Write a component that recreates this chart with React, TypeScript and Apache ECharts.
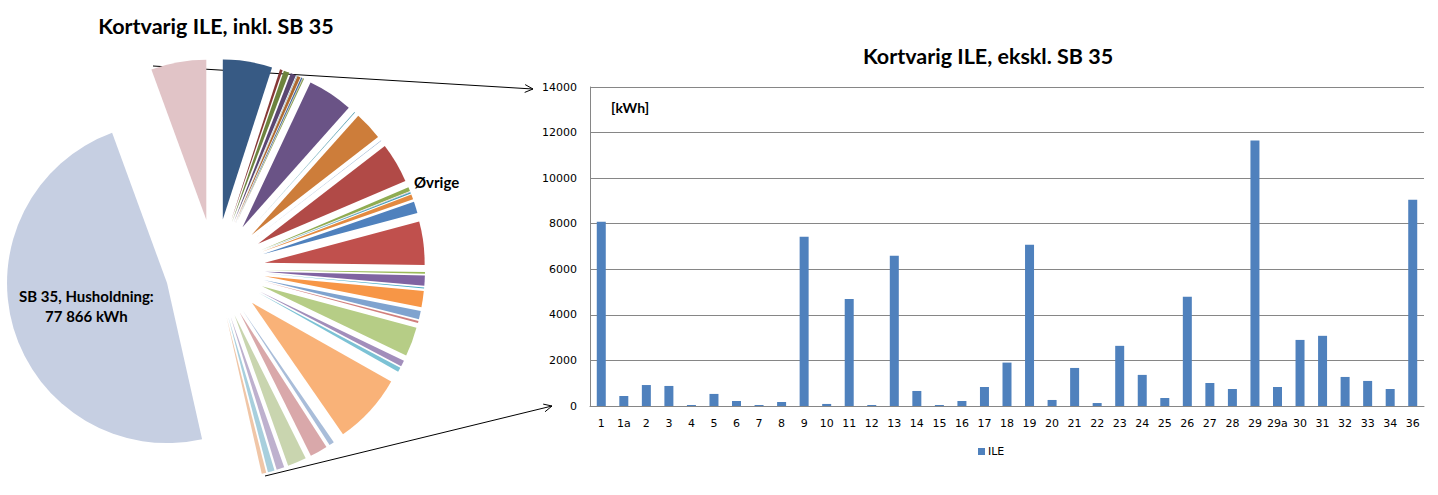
import React, { useEffect, useRef } from "react";
import * as echarts from "echarts";

// ---------- data ----------
const categories = [
  "1", "1a", "2", "3", "4", "5", "6", "7", "8", "9", "10", "11", "12", "13", "14", "15", "16", "17", "18", "19",
  "20", "21", "22", "23", "24", "25", "26", "27", "28", "29", "29a", "30", "31", "32", "33", "34", "36",
];
const ileValues = [
  8090, 440, 920, 880, 45, 530, 220, 45, 175, 7430, 90, 4700, 45, 6590, 660, 45, 220, 835, 1905, 7080,
  265, 1670, 130, 2640, 1365, 350, 4790, 1010, 745, 11650, 835, 2900, 3080, 1275, 1100, 745, 9055,
];
const sb35Name = "SB 35, Husholdning";
const sb35Value = 77866;
const sb35InsertBefore = "36";
const yTicks = [0, 2000, 4000, 6000, 8000, 10000, 12000, 14000];
const seriesName = "ILE";
const pieTitle = "Kortvarig ILE, inkl. SB 35";
const barTitle = "Kortvarig ILE, ekskl. SB 35";
const unitLabel = "[kWh]";
const otherLabel = "Øvrige";

// ---------- styling ----------
const accents = ["#4F81BD", "#C0504D", "#9BBB59", "#8064A2", "#4BACC6", "#F79646"];
const paleGray = [235, 232, 238];
const cycleMods: { shade?: number; tint?: number; gray?: number }[] = [
  { shade: 0.7 }, { shade: 0.83 }, { shade: 0.92 }, { shade: 1 }, { tint: 0.27 }, { gray: 0.58 }, { gray: 0.76 },
];
function variant(hex: string, mod: { shade?: number; tint?: number; gray?: number }) {
  const n = parseInt(hex.slice(1), 16);
  let rgb = [(n >> 16) & 255, (n >> 8) & 255, n & 255];
  if (mod.shade !== undefined) rgb = rgb.map((c) => Math.round(c * mod.shade!));
  if (mod.tint !== undefined) rgb = rgb.map((c) => Math.round(c + (255 - c) * mod.tint!));
  if (mod.gray !== undefined) rgb = rgb.map((c, k) => Math.round(c + (paleGray[k] - c) * mod.gray!));
  return "#" + rgb.map((c) => c.toString(16).padStart(2, "0")).join("");
}
function pieColor(i: number) {
  return variant(accents[i % 6], cycleMods[Math.min(Math.floor(i / 6), cycleMods.length - 1)]);
}
function fmtSpace(v: number) {
  return String(v).replace(/\B(?=(\d{3})+(?!\d))/g, " ");
}
function arrowHead(x1: number, y1: number, x2: number, y2: number, len: number) {
  const a = Math.atan2(y2 - y1, x2 - x1);
  const s = 0.45;
  return [
    [x2 - len * Math.cos(a - s), y2 - len * Math.sin(a - s)],
    [x2, y2],
    [x2 - len * Math.cos(a + s), y2 - len * Math.sin(a + s)],
  ];
}

const titleFont = "Lato, 'Open Sans', sans-serif";
const tickFont = "'DejaVu Sans', Verdana, sans-serif";

export default function App() {
  const ref = useRef<HTMLDivElement>(null);
  useEffect(() => {
    if (!ref.current) return;
    const chart = echarts.init(ref.current, undefined, { renderer: "svg" });

    const insertAt = categories.indexOf(sb35InsertBefore);
    const pieNames = [...categories.slice(0, insertAt), sb35Name, ...categories.slice(insertAt)];
    const pieVals = [...ileValues.slice(0, insertAt), sb35Value, ...ileValues.slice(insertAt)];
    const pieData = pieNames.map((name, i) => {
      const isSb = name === sb35Name;
      return {
        name,
        value: pieVals[i],
        selected: true,
        itemStyle: { color: pieColor(i) },
        label: isSb
          ? {
              show: true,
              position: "inside",
              formatter: () => `${sb35Name}:\n${fmtSpace(sb35Value)} kWh`,
              fontFamily: titleFont,
              fontWeight: "bold",
              fontSize: 15,
              lineHeight: 20,
              padding: [0, 2, 12, 0],
              color: "#000",
            }
          : { show: false },
      };
    });

    const l1 = [153, 66, 533, 89];
    const l2 = [265, 476, 552, 406];

    chart.setOption({
      animation: false,
      title: [
        {
          text: pieTitle,
          left: 211,
          top: 10,
          textAlign: "center",
          textStyle: { fontFamily: titleFont, fontWeight: "bold", fontSize: 21.5, color: "#000" },
        },
        {
          text: barTitle,
          left: 983,
          top: 40,
          textAlign: "center",
          textStyle: { fontFamily: titleFont, fontWeight: "bold", fontSize: 21.5, color: "#000" },
        },
      ],
      legend: {
        data: [seriesName],
        left: 973,
        top: 441,
        icon: "rect",
        itemWidth: 7,
        itemHeight: 7,
        itemGap: 4,
        textStyle: { fontFamily: tickFont, fontSize: 11, color: "#000", padding: [0, 0, 0, -2] },
      },
      grid: { left: 590, right: 14, top: 87, bottom: 89, containLabel: false },
      xAxis: {
        type: "category",
        data: categories,
        axisLine: { lineStyle: { color: "#868686" } },
        axisTick: { show: false },
        axisLabel: { interval: 0, color: "#000", fontFamily: tickFont, fontSize: 11, margin: 12 },
      },
      yAxis: {
        type: "value",
        min: yTicks[0],
        max: yTicks[yTicks.length - 1],
        interval: yTicks[1] - yTicks[0],
        axisLine: { show: true, lineStyle: { color: "#868686" } },
        axisTick: { show: false },
        splitLine: { lineStyle: { color: "#868686" } },
        axisLabel: {
          color: "#000",
          fontFamily: tickFont,
          fontSize: 11,
          margin: 13,
          formatter: (v: number) => String(v),
        },
      },
      series: [
        {
          type: "bar",
          name: seriesName,
          data: ileValues,
          barWidth: 9,
          itemStyle: { color: "#4F81BD" },
          emphasis: { disabled: true },
        },
        {
          type: "pie",
          name: "pie",
          center: [215, 269],
          radius: [0, 160],
          startAngle: 90,
          clockwise: true,
          selectedMode: "multiple",
          selectedOffset: 50,
          avoidLabelOverlap: false,
          labelLine: { show: false },
          label: { show: false },
          emphasis: { disabled: true },
          select: { itemStyle: { borderWidth: 0 } },
          itemStyle: { borderWidth: 0 },
          data: pieData,
        },
      ],
      graphic: [
        {
          type: "text",
          left: 611,
          top: 100,
          style: { text: unitLabel, fontFamily: titleFont, fontWeight: "bold", fontSize: 14, fill: "#000" },
        },
        {
          type: "text",
          left: 414,
          top: 174,
          style: { text: otherLabel, fontFamily: titleFont, fontWeight: "bold", fontSize: 15, fill: "#000" },
        },
        {
          type: "line",
          shape: { x1: l1[0], y1: l1[1], x2: l1[2], y2: l1[3] },
          style: { stroke: "#000", lineWidth: 1 },
        },
        {
          type: "polyline",
          shape: { points: arrowHead(l1[0], l1[1], l1[2], l1[3], 9) },
          style: { stroke: "#000", lineWidth: 1, fill: null },
        },
        {
          type: "line",
          shape: { x1: l2[0], y1: l2[1], x2: l2[2], y2: l2[3] },
          style: { stroke: "#000", lineWidth: 1 },
        },
        {
          type: "polyline",
          shape: { points: arrowHead(l2[0], l2[1], l2[2], l2[3], 9) },
          style: { stroke: "#000", lineWidth: 1, fill: null },
        },
      ],
    });
    return () => chart.dispose();
  }, []);
  return (
    <div
      ref={ref}
      style={{ position: "fixed", left: 0, top: 0, width: 1438, height: 495, background: "#fff" }}
    />
  );
}
